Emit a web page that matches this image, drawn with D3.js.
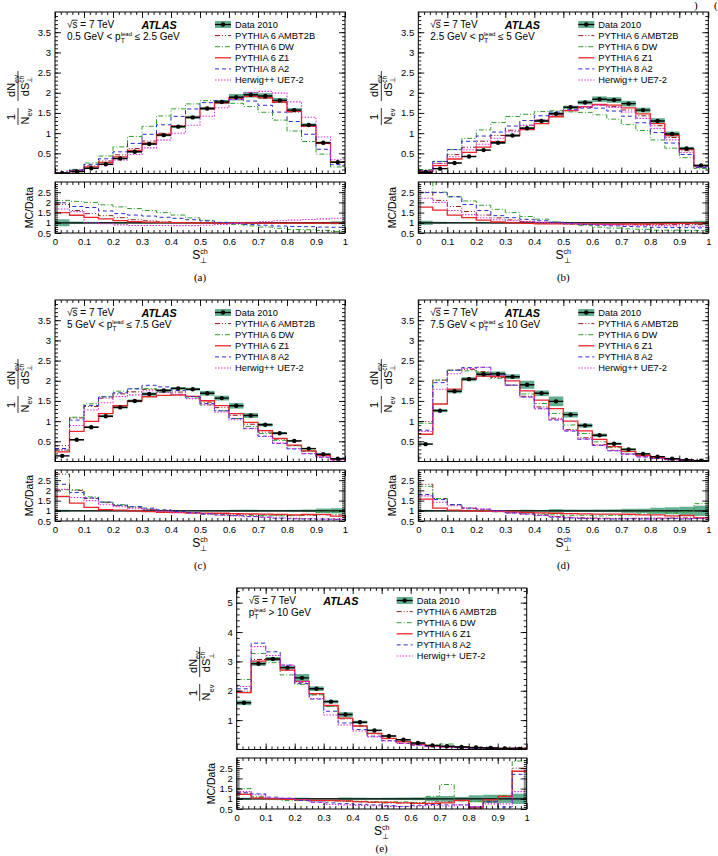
<!DOCTYPE html>
<html>
<head>
<meta charset="utf-8">
<script src="https://cdn.jsdelivr.net/npm/d3@7"></script>
<style>
body{margin:0;background:#fff}
svg{font-family:"Liberation Sans",Arial,Helvetica,sans-serif}
text{white-space:pre}
</style>
</head>
<body>
<svg id="fig" width="718" height="856"></svg>
<script>
// bins of S_perp^ch
const binEdges = [0,0.05,0.1,0.15,0.2,0.25,0.3,0.35,0.4,0.45,0.5,0.55,0.6,0.65,0.7,0.75,0.8,0.85,0.9,0.95,1];
const xTickValues = [0,0.1,0.2,0.3,0.4,0.5,0.6,0.7,0.8,0.9,1];
const xTickLabels = ["0","0.1","0.2","0.3","0.4","0.5","0.6","0.7","0.8","0.9","1"];
const mainTicks = [0.5,1,1.5,2,2.5,3,3.5];
const mainTickLabels = ["0.5","1","1.5","2","2.5","3","3.5"];
const mainTicksE = [1,2,3,4,5];
const mainTickLabelsE = ["1","2","3","4","5"];
const ratioTicks = [0.5,1,1.5,2,2.5];
const ratioTickLabels = ["0.5","1","1.5","2","2.5"];
const mcNames = ["PYTHIA 6 AMBT2B","PYTHIA 6 DW","PYTHIA 6 Z1","PYTHIA 8 A2","Herwig++ UE7-2"];

// (a) 0.5 < pT lead <= 2.5 GeV
const dataA = [0.01,0.05,0.13,0.23,0.37,0.54,0.73,0.95,1.16,1.39,1.61,1.77,1.89,1.95,1.92,1.81,1.57,1.20,0.76,0.28];
const errA = [0.0017,0.003,0.006,0.01,0.014,0.02,0.025,0.03,0.035,0.04,0.04,0.05,0.08,0.07,0.07,0.06,0.05,0.04,0.03,0.02];
const ambt2bA = [1.9,1.6,1.45,1.35,1.25,1.15,1.1,1.05,1.02,1.0,1.0,0.99,0.99,0.98,0.97,0.97,0.97,0.97,0.97,0.97];
const dwA = [2.1,2.05,2.0,1.88,1.78,1.7,1.6,1.5,1.38,1.24,1.12,1.02,0.92,0.85,0.79,0.73,0.67,0.66,0.63,0.58];
const z1A = [1.5,1.37,1.27,1.19,1.11,1.06,1.03,1.02,1.01,1.0,1.0,0.99,0.99,0.98,0.98,0.98,0.98,0.98,0.98,0.98];
const a2A = [1.98,1.8,1.75,1.58,1.45,1.38,1.33,1.27,1.22,1.15,1.09,1.02,0.97,0.92,0.88,0.84,0.82,0.81,0.79,0.78];
const herwigA = [1.68,1.55,1.0,0.95,0.9,0.87,0.87,0.87,0.86,0.86,0.88,0.92,0.97,1.03,1.06,1.1,1.13,1.16,1.19,1.22];

// (b) 2.5 < pT lead <= 5 GeV
const dataB = [0.03,0.12,0.26,0.42,0.58,0.76,0.94,1.12,1.30,1.48,1.64,1.76,1.84,1.82,1.73,1.57,1.30,0.98,0.62,0.20];
const errB = [0.003,0.006,0.008,0.01,0.015,0.03,0.03,0.03,0.03,0.04,0.04,0.05,0.07,0.07,0.07,0.06,0.07,0.06,0.04,0.02];
const ambt2bB = [2.5,2.1,1.8,1.55,1.38,1.24,1.14,1.07,1.02,0.98,0.95,0.93,0.92,0.91,0.91,0.91,0.91,0.91,0.91,0.91];
const dwB = [3.3,2.5,2.27,2.07,1.86,1.66,1.5,1.31,1.18,1.05,0.93,0.86,0.79,0.74,0.7,0.68,0.64,0.64,0.63,0.63];
const z1B = [1.77,1.62,1.38,1.25,1.13,1.04,1.0,0.97,0.95,0.95,0.95,0.94,0.93,0.93,0.94,0.94,0.95,0.96,0.97,0.98];
const a2B = [2.48,2.48,2.28,1.9,1.6,1.35,1.25,1.17,1.1,1.03,0.97,0.92,0.88,0.85,0.82,0.8,0.78,0.77,0.76,0.75];
const herwigB = [2.2,2.0,1.6,1.4,1.25,1.15,1.1,1.06,1.02,0.99,0.96,0.94,0.92,0.9,0.88,0.87,0.86,0.85,0.84,0.83];

// (c) 5 < pT lead <= 7.5 GeV
const dataC = [0.14,0.54,0.85,1.12,1.34,1.50,1.67,1.76,1.81,1.79,1.69,1.57,1.38,1.14,0.91,0.70,0.51,0.32,0.18,0.07];
const errC = [0.007,0.015,0.02,0.025,0.03,0.035,0.04,0.035,0.035,0.035,0.06,0.06,0.07,0.06,0.04,0.03,0.025,0.02,0.02,0.009];
const ambt2bC = [2.8,2.0,1.6,1.4,1.25,1.15,1.07,1.0,0.95,0.9,0.87,0.85,0.83,0.81,0.8,0.79,0.78,0.78,0.8,0.8];
const dwC = [2.03,2.03,1.68,1.43,1.3,1.2,1.08,0.97,0.92,0.88,0.83,0.8,0.77,0.76,0.76,0.75,0.76,0.8,0.95,0.95];
const z1C = [1.7,1.38,1.17,1.06,1.03,1.0,0.96,0.93,0.91,0.9,0.89,0.88,0.86,0.85,0.84,0.82,0.8,0.82,0.82,0.74];
const a2C = [2.3,1.9,1.63,1.43,1.27,1.2,1.13,1.05,0.97,0.9,0.85,0.8,0.77,0.72,0.69,0.64,0.61,0.6,0.59,0.58];
const herwigC = [2.05,1.65,1.5,1.3,1.2,1.1,1.05,0.97,0.92,0.87,0.83,0.78,0.75,0.71,0.68,0.65,0.63,0.62,0.6,0.59];

// (d) 7.5 < pT lead <= 10 GeV
const dataD = [0.43,1.26,1.74,2.04,2.16,2.17,2.10,1.90,1.69,1.49,1.16,0.89,0.65,0.44,0.30,0.19,0.12,0.07,0.04,0.02];
const errD = [0.02,0.04,0.05,0.05,0.06,0.06,0.06,0.1,0.07,0.12,0.07,0.05,0.04,0.03,0.03,0.02,0.018,0.012,0.008,0.005];
const ambt2bD = [2.3,1.6,1.3,1.12,1.03,0.96,0.9,0.85,0.8,0.72,0.68,0.66,0.64,0.63,0.63,0.63,0.64,0.65,0.65,0.65];
const dwD = [2.2,1.6,1.3,1.1,1.02,0.95,0.9,0.88,0.85,0.8,0.78,0.78,0.75,0.78,0.8,0.85,0.95,0.9,0.95,1.35];
const z1D = [1.57,1.13,1.03,1.0,0.98,0.97,0.95,0.92,0.9,0.88,0.86,0.85,0.84,0.84,0.83,0.8,0.8,0.75,0.77,0.65];
const a2D = [1.8,1.55,1.3,1.14,1.08,1.0,0.9,0.84,0.78,0.69,0.65,0.62,0.61,0.6,0.6,0.6,0.6,0.62,0.6,0.62];
const herwigD = [1.73,1.42,1.25,1.13,1.08,0.98,0.9,0.84,0.77,0.7,0.66,0.63,0.62,0.62,0.62,0.63,0.63,0.65,0.62,0.63];

// (e) pT lead > 10 GeV
const dataE = [1.59,2.92,3.08,2.79,2.44,2.07,1.63,1.19,0.93,0.65,0.46,0.33,0.22,0.14,0.11,0.085,0.07,0.05,0.035,0.02];
const errE = [0.08,0.07,0.07,0.06,0.13,0.08,0.06,0.08,0.05,0.03,0.025,0.02,0.015,0.015,0.015,0.008,0.012,0.01,0.007,0.005];
const ambt2bE = [1.25,1.05,1.0,0.97,0.94,0.9,0.9,0.88,0.85,0.82,0.8,0.8,0.82,0.85,0.85,0.9,0.6,0.85,1.1,2.5];
const dwE = [1.5,1.12,0.96,0.91,0.91,0.9,0.9,0.9,0.88,0.86,0.85,0.85,0.8,1.12,1.7,0.9,0.88,0.9,1.15,2.85];
const z1E = [1.22,1.03,1.0,0.97,0.95,0.92,0.92,0.9,0.86,0.84,0.82,0.8,0.78,0.78,0.8,0.92,0.55,0.95,1.12,2.35];
const a2E = [1.3,1.24,1.08,1.03,0.92,0.83,0.8,0.76,0.73,0.7,0.66,0.62,0.68,0.72,0.7,0.7,0.6,0.85,0.6,2.2];
const herwigE = [1.35,1.2,1.04,1.03,0.95,0.84,0.72,0.7,0.68,0.66,0.63,0.62,0.65,0.68,0.65,0.7,0.62,0.75,0.75,1.35];

const mcStyles = [
  {color:"#8b1a1a", dash:"5,2,1,2,1,2", width:1},
  {color:"#2f9e2f", dash:"5,2,1,2", width:1},
  {color:"#e8262b", dash:null, width:1.3},
  {color:"#2a2ad0", dash:"4,3", width:1},
  {color:"#e030e0", dash:"1.5,1.5", width:1.1}
];
const bandColor = "#47a07a";

const panels = [
  {tag:"(a)", left:55, top:12, ymax:4, yt:mainTicks, ytl:mainTickLabels, data:dataA, err:errA,
   mc:[ambt2bA,dwA,z1A,a2A,herwigA], pt:[{t:"0.5 GeV < p"},{sub:"T",sup:"lead"},{t:"\u00A0\u2264 2.5 GeV"}]},
  {tag:"(b)", left:418.3, top:12, ymax:4, yt:mainTicks, ytl:mainTickLabels, data:dataB, err:errB,
   mc:[ambt2bB,dwB,z1B,a2B,herwigB], pt:[{t:"2.5 GeV < p"},{sub:"T",sup:"lead"},{t:"\u00A0\u2264 5 GeV"}]},
  {tag:"(c)", left:55, top:300, ymax:4, yt:mainTicks, ytl:mainTickLabels, data:dataC, err:errC,
   mc:[ambt2bC,dwC,z1C,a2C,herwigC], pt:[{t:"5 GeV < p"},{sub:"T",sup:"lead"},{t:"\u00A0\u2264 7.5 GeV"}]},
  {tag:"(d)", left:418.3, top:300, ymax:4, yt:mainTicks, ytl:mainTickLabels, data:dataD, err:errD,
   mc:[ambt2bD,dwD,z1D,a2D,herwigD], pt:[{t:"7.5 GeV < p"},{sub:"T",sup:"lead"},{t:"\u00A0\u2264 10 GeV"}]},
  {tag:"(e)", left:236.7, top:588, ymax:5.5, yt:mainTicksE, ytl:mainTickLabelsE, data:dataE, err:errE,
   mc:[ambt2bE,dwE,z1E,a2E,herwigE], pt:[{t:"p"},{sub:"T",sup:"lead"},{t:"\u00A0> 10 GeV"}]}
];

const svg = d3.select("#fig");
const W = 290, H = 161.5, RT = 170, RH = 51;

// text with stacked sub/superscripts, returns width
function rich(g, x, y, parts, size, anchor){
  const grp = g.append("g");
  let cx = 0;
  parts.forEach(p => {
    if (p.t !== undefined){
      const t = grp.append("text").attr("x", cx).attr("y", 0).attr("font-size", size).text(p.t);
      cx += t.node().getComputedTextLength();
    } else {
      let w = 0;
      if (p.sub !== undefined){
        const t = grp.append("text").attr("x", cx).attr("y", size*0.32).attr("font-size", size*0.68).text(p.sub);
        w = Math.max(w, t.node().getComputedTextLength());
      }
      if (p.sup !== undefined){
        const t = grp.append("text").attr("x", cx).attr("y", -size*0.45).attr("font-size", size*0.6).text(p.sup);
        w = Math.max(w, t.node().getComputedTextLength());
      }
      cx += w;
    }
  });
  const shift = anchor === "middle" ? -cx/2 : (anchor === "end" ? -cx : 0);
  grp.attr("transform", "translate(" + (x+shift) + "," + y + ")");
  return cx;
}

function axisSet(g, axisFn, scale, major, minor, labels, transform, pad){
  const a1 = g.append("g").attr("transform", transform)
    .call(axisFn(scale).tickValues(minor).tickSize(-3).tickFormat(""));
  const a2 = g.append("g").attr("transform", transform)
    .call(axisFn(scale).tickValues(major).tickSize(-6).tickPadding(pad || 4)
      .tickFormat(labels ? (d,i) => labels[i] : ""));
  [a1,a2].forEach(a => {
    a.select(".domain").remove();
    a.attr("font-size", 9.5).attr("font-family", null);
    a.selectAll("line").attr("stroke-width", 0.9);
  });
}

const xMinor = d3.range(1,50).map(i => i/50);
const ratioMinor = d3.range(6,30).map(i => i/10);

panels.forEach((p, pi) => {
  const g = svg.append("g");
  const x = d3.scaleLinear().domain([0,1]).range([p.left, p.left+W]);
  const y = d3.scaleLinear().domain([0,p.ymax]).range([p.top+H, p.top]);
  const yr = d3.scaleLinear().domain([0.5,3.0]).range([p.top+RT+RH, p.top+RT]);
  const bins = p.data.map((d,i) => ({lo:binEdges[i], hi:binEdges[i+1], v:d, e:p.err[i]}));

  const cm = "clipM" + pi, cr = "clipR" + pi;
  const defs = g.append("defs");
  defs.append("clipPath").attr("id", cm).append("rect")
    .attr("x", p.left).attr("y", p.top).attr("width", W).attr("height", H);
  defs.append("clipPath").attr("id", cr).append("rect")
    .attr("x", p.left).attr("y", p.top+RT).attr("width", W).attr("height", RH);

  // ---- main panel
  const gm = g.append("g").attr("clip-path", "url(#" + cm + ")");
  gm.selectAll(".band").data(bins).enter().append("rect")
    .attr("x", d => x(d.lo)).attr("width", d => x(d.hi)-x(d.lo))
    .attr("y", d => y(d.v+d.e)).attr("height", d => Math.max(0.8, y(d.v-d.e)-y(d.v+d.e)))
    .attr("fill", bandColor).attr("opacity", 0.85);

  const line = d3.line().x(d => x(d[0])).y(d => y(d[1])).curve(d3.curveStepAfter);
  p.mc.forEach((r, k) => {
    const pts = binEdges.map((e,i) => [e, r[Math.min(i,19)] * p.data[Math.min(i,19)]]);
    const s = mcStyles[k];
    gm.append("path").attr("d", line(pts)).attr("fill","none")
      .attr("stroke", s.color).attr("stroke-width", s.width)
      .attr("stroke-dasharray", s.dash);
  });
  gm.selectAll(".xerr").data(bins).enter().append("line")
    .attr("x1", d => x(d.lo)).attr("x2", d => x(d.hi))
    .attr("y1", d => y(d.v)).attr("y2", d => y(d.v))
    .attr("stroke","#000").attr("stroke-width",1.4);
  gm.selectAll(".pt").data(bins).enter().append("circle")
    .attr("cx", d => x((d.lo+d.hi)/2)).attr("cy", d => y(d.v)).attr("r", 2.2).attr("fill","#000");

  g.append("rect").attr("x", p.left).attr("y", p.top).attr("width", W).attr("height", H)
    .attr("fill","none").attr("stroke","#000").attr("stroke-width",1);

  const yMinor = p.ymax > 4 ? d3.range(1,28).map(i => i/5) : d3.range(1,40).map(i => i/10);
  axisSet(g, d3.axisLeft, y, p.yt, yMinor, p.ytl, "translate(" + p.left + ",0)", 4);
  axisSet(g, d3.axisRight, y, p.yt, yMinor, null, "translate(" + (p.left+W) + ",0)");
  axisSet(g, d3.axisBottom, x, xTickValues, xMinor, null, "translate(0," + (p.top+H) + ")");
  axisSet(g, d3.axisTop, x, xTickValues, xMinor, null, "translate(0," + p.top + ")");

  // ---- ratio panel
  const gr = g.append("g").attr("clip-path", "url(#" + cr + ")");
  gr.selectAll(".rband").data(bins).enter().append("rect")
    .attr("x", d => x(d.lo)).attr("width", d => x(d.hi)-x(d.lo))
    .attr("y", d => yr(1+d.e/d.v)).attr("height", d => yr(1-d.e/d.v)-yr(1+d.e/d.v))
    .attr("fill", bandColor).attr("opacity", 0.85);
  gr.append("line").attr("x1", x(0)).attr("x2", x(1)).attr("y1", yr(1)).attr("y2", yr(1))
    .attr("stroke","#000").attr("stroke-width",1.2);
  const rline = d3.line().x(d => x(d[0])).y(d => yr(d[1])).curve(d3.curveStepAfter);
  p.mc.forEach((r, k) => {
    const pts = binEdges.map((e,i) => [e, r[Math.min(i,19)]]);
    const s = mcStyles[k];
    gr.append("path").attr("d", rline(pts)).attr("fill","none")
      .attr("stroke", s.color).attr("stroke-width", s.width)
      .attr("stroke-dasharray", s.dash);
  });
  g.append("rect").attr("x", p.left).attr("y", p.top+RT).attr("width", W).attr("height", RH)
    .attr("fill","none").attr("stroke","#000").attr("stroke-width",1);
  axisSet(g, d3.axisLeft, yr, ratioTicks, ratioMinor, ratioTickLabels, "translate(" + p.left + ",0)", 4);
  axisSet(g, d3.axisRight, yr, ratioTicks, ratioMinor, null, "translate(" + (p.left+W) + ",0)");
  axisSet(g, d3.axisBottom, x, xTickValues, xMinor, xTickLabels, "translate(0," + (p.top+RT+RH) + ")", 5);
  axisSet(g, d3.axisTop, x, xTickValues, xMinor, null, "translate(0," + (p.top+RT) + ")");

  // ---- texts
  const sw = rich(g, p.left+12, p.top+16, [{t:"\u221A"}], 10);
  rich(g, p.left+12+sw, p.top+16, [{t:"s = 7 TeV"}], 10);
  g.append("line").attr("x1", p.left+12+sw-0.5).attr("x2", p.left+12+sw+5.2)
    .attr("y1", p.top+8.2).attr("y2", p.top+8.2).attr("stroke","#000").attr("stroke-width",0.8);
  g.append("text").attr("x", p.left+86.5).attr("y", p.top+16.5)
    .attr("font-size", 10.8).attr("font-weight","bold").attr("font-style","italic").text("ATLAS");
  rich(g, p.left+12, p.top+28, p.pt, 10);

  // legend
  const lx = p.left+160;
  ["Data 2010"].concat(mcNames).forEach((name, i) => {
    const ly = p.top + 12.5 + i*11.1;
    if (i === 0){
      g.append("rect").attr("x", lx).attr("y", ly-3.5).attr("width", 16).attr("height", 7)
        .attr("fill", bandColor).attr("opacity", 0.85);
      g.append("line").attr("x1", lx).attr("x2", lx+16).attr("y1", ly).attr("y2", ly)
        .attr("stroke","#000").attr("stroke-width",1.3);
      g.append("circle").attr("cx", lx+8).attr("cy", ly).attr("r", 2.2).attr("fill","#000");
    } else {
      const s = mcStyles[i-1];
      g.append("line").attr("x1", lx).attr("x2", lx+16).attr("y1", ly).attr("y2", ly)
        .attr("stroke", s.color).attr("stroke-width", s.width).attr("stroke-dasharray", s.dash);
    }
    g.append("text").attr("x", lx+20).attr("y", ly+3.3).attr("font-size", 9.3).text(name);
  });

  // y titles
  const yt = g.append("g").attr("transform", "translate(" + (p.left-37) + "," + (p.top+86) + ") rotate(-90)");
  yt.append("text").attr("x", -19).attr("y", -3).attr("text-anchor","middle").attr("font-size",11).text("1");
  yt.append("line").attr("x1", -27).attr("x2", -10).attr("y1", 0).attr("y2", 0).attr("stroke","#000").attr("stroke-width",0.8);
  rich(yt, -18.5, 10.5, [{t:"N"},{sub:"ev"}], 11, "middle");
  rich(yt, 12, -3, [{t:"dN"},{sub:"ev"}], 11, "middle");
  yt.append("line").attr("x1", -3).attr("x2", 27).attr("y1", 0).attr("y2", 0).attr("stroke","#000").attr("stroke-width",0.8);
  rich(yt, 12, 10.5, [{t:"dS"},{sub:"\u22A5",sup:"ch"}], 11, "middle");

  g.append("text").attr("transform", "translate(" + (p.left-22) + "," + (p.top+RT+RH/2) + ") rotate(-90)")
    .attr("text-anchor","middle").attr("font-size",10.5).text("MC/Data");

  rich(g, p.left+W/2, p.top+RT+RH+26, [{t:"S"},{sub:"\u22A5",sup:"ch"}], 12, "middle");
  g.append("text").attr("x", p.left+W/2).attr("y", Math.min(p.top+RT+RH+48, 852)).attr("text-anchor","middle")
    .attr("font-family","'Liberation Serif','Times New Roman',serif").attr("font-size",11).text(p.tag);
});

// fragment of the neighbouring caption at the page edge
svg.append("text").attr("x", 694).attr("y", 9).attr("font-family","'Liberation Serif',serif").attr("font-size",11).text(")");
svg.append("text").attr("x", 714).attr("y", 9).attr("font-family","'Liberation Serif',serif").attr("font-size",11).text("(");
</script>
</body>
</html>
